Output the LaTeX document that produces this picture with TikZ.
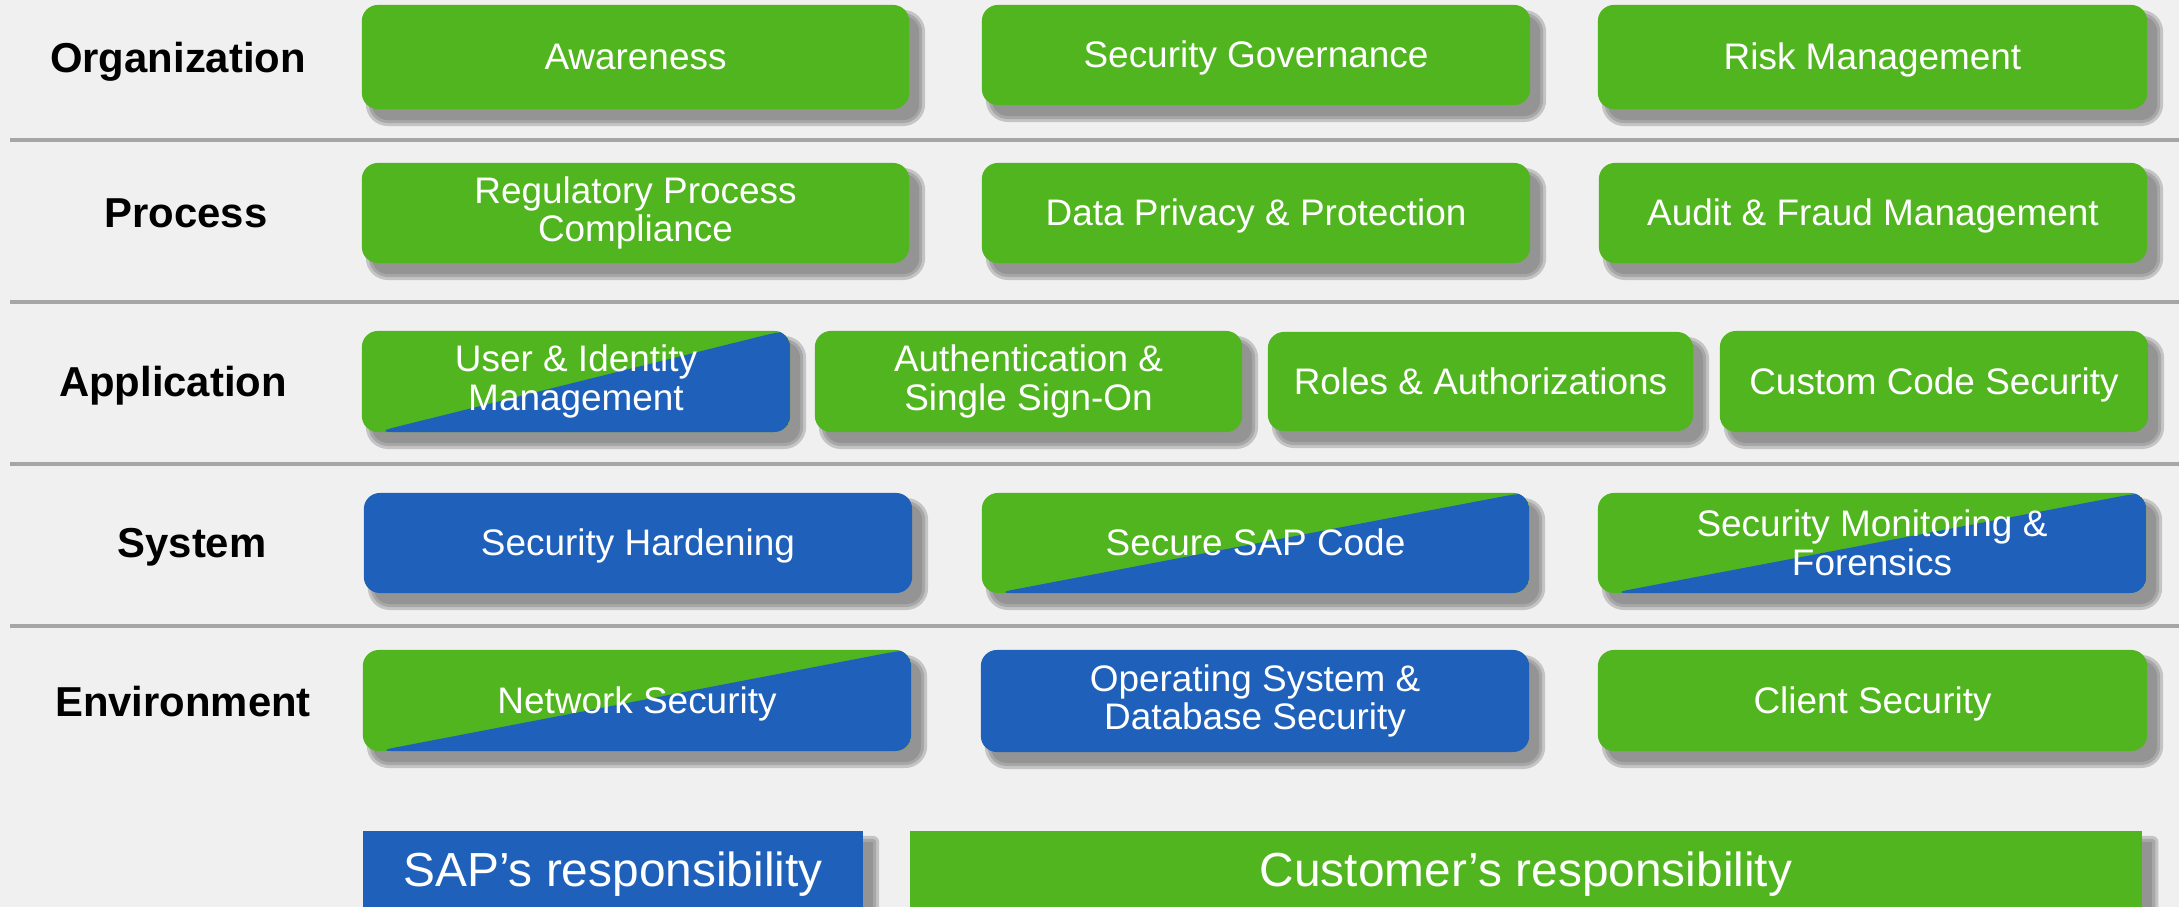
\documentclass[tikz,border=0pt]{standalone}
\usepackage{fontspec}
\setmainfont{Liberation Sans}
\usetikzlibrary{calc}
\definecolor{sapgreen}{RGB}{80,181,30}
\definecolor{sapblue}{RGB}{31,97,186}
\definecolor{bgcol}{RGB}{240,240,240}
\definecolor{sepcol}{RGB}{166,166,166}
\definecolor{shadowcol}{RGB}{115,115,115}
\pgfdeclarelayer{bglayer}
\pgfdeclarelayer{shadowlayer}
\pgfsetlayers{bglayer,shadowlayer,main}
\tikzset{
  cell/.style={rounded corners=1.6mm, inner sep=0pt, outer sep=0pt, align=center,
    text=white, font=\fontsize{10.5}{11}\selectfont},
  oneline/.style={text height=0.72em, text depth=0pt},
  greencell/.style={cell, fill=sapgreen},
  bluecell/.style={cell, fill=sapblue},
  splitcell/.style={cell, fill=sapgreen, path picture={
    \fill[sapblue] ($(path picture bounding box.south west)+(1.4mm,0)$) --
      ($(path picture bounding box.north east)+(-0.8mm,0)$) --
      (path picture bounding box.north east) --
      (path picture bounding box.south east) -- cycle;}},
  barcell/.style={inner sep=0pt, outer sep=0pt, text=white, font=\fontsize{13.6}{15}\selectfont},
  rowlabel/.style={anchor=base, inner sep=0pt, font=\fontsize{11.9}{13}\selectfont\bfseries},
  sepline/.style={draw=sepcol, line width=0.45mm}
}
\newcommand\cellnode[8]{% #1 style, #2 name, #3 x0, #4 y0, #5 x1, #6 y1, #7 text, #8 corner radius (mm)
  \pgfmathsetmacro\cw{(#5-#3)/10}\pgfmathsetmacro\ch{(#6-#4)/10}
  \node[#1, minimum width=\cw mm, minimum height=\ch mm] (#2) at ({(#3+#5)/2},{(#4+#6)/2}) {#7};
  \begin{pgfonlayer}{shadowlayer}
    \foreach \e/\r in {6/0.6,3/0.3,0/0} {
      \pgfmathsetmacro\rr{#8+\r}
      \fill[shadowcol, opacity=0.35, rounded corners=\rr mm]
        ($(#2.north west)+(10-\e,11-\e)$) rectangle ($(#2.south east)+(10+\e,11+\e)$);
    }
  \end{pgfonlayer}}
\begin{document}
\begin{tikzpicture}[x=0.01cm, y=-0.01cm]
\useasboundingbox (0,0) rectangle (2179,907);
\begin{pgfonlayer}{bglayer}
  \fill[bgcol] (0,0) rectangle (2179,907);
  \coordinate (s1l) at (10,140);  \coordinate (s1r) at (2179,140);
  \coordinate (s2l) at (10,302);  \coordinate (s2r) at (2179,302);
  \coordinate (s3l) at (10,464);  \coordinate (s3r) at (2179,464);
  \coordinate (s4l) at (10,626);  \coordinate (s4r) at (2179,626);
  \draw[sepline] (s1l) -- (s1r);
  \draw[sepline] (s2l) -- (s2r);
  \draw[sepline] (s3l) -- (s3r);
  \draw[sepline] (s4l) -- (s4r);
\end{pgfonlayer}

% row labels
\node[rowlabel] (lorg) at (178,73) {Organization};
\node[rowlabel] (lproc) at (186,228) {Process};
\node[rowlabel] (lapp) at (173,397) {Application};
\node[rowlabel] (lsys) at (192,558) {System};
\node[rowlabel] (lenv) at (183,716) {Environment};

% Organization
\cellnode{greencell,oneline}{aw}{362}{5}{909}{109}{Awareness}{1.6}
\cellnode{greencell,oneline}{gov}{982}{5}{1530}{105}{Security Governance}{1.6}
\cellnode{greencell,oneline}{risk}{1598}{5}{2147}{109}{Risk Management}{1.6}
% Process
\cellnode{greencell}{reg}{362}{163}{909}{263}{Regulatory Process\\Compliance}{1.6}
\cellnode{greencell,oneline}{dpp}{982}{163}{1530}{263}{Data Privacy \& Protection}{1.6}
\cellnode{greencell,oneline}{audit}{1599}{163}{2147}{263}{Audit \& Fraud Management}{1.6}
% Application
\cellnode{splitcell}{uim}{362}{331}{790}{432}{User \& Identity\\Management}{1.6}
\cellnode{greencell}{auth}{815}{331}{1242}{432}{Authentication \&\\Single Sign-On}{1.6}
\cellnode{greencell,oneline}{roles}{1268}{332}{1693}{431}{Roles \& Authorizations}{1.6}
\cellnode{greencell,oneline}{ccs}{1720}{331}{2148}{432}{Custom Code Security}{1.6}
% System
\cellnode{bluecell,oneline}{hard}{364}{493}{912}{593}{Security Hardening}{1.6}
\cellnode{splitcell,oneline}{ssc}{982}{493}{1529}{593}{Secure SAP Code}{1.6}
\cellnode{splitcell}{mon}{1598}{493}{2146}{593}{Security Monitoring \&\\Forensics}{1.6}
% Environment
\cellnode{splitcell,oneline}{net}{363}{650}{911}{751}{Network Security}{1.6}
\cellnode{bluecell}{osdb}{981}{650}{1529}{752}{Operating System \&\\Database Security}{1.6}
\cellnode{greencell,oneline}{client}{1598}{650}{2147}{751}{Client Security}{1.6}

% responsibility bars
\cellnode{barcell, fill=sapblue}{sapbar}{363}{831}{863}{917}{SAP’s responsibility}{0}
\cellnode{barcell, fill=sapgreen}{custbar}{910}{831}{2142}{917}{Customer’s responsibility}{0}
\end{tikzpicture}
\end{document}
